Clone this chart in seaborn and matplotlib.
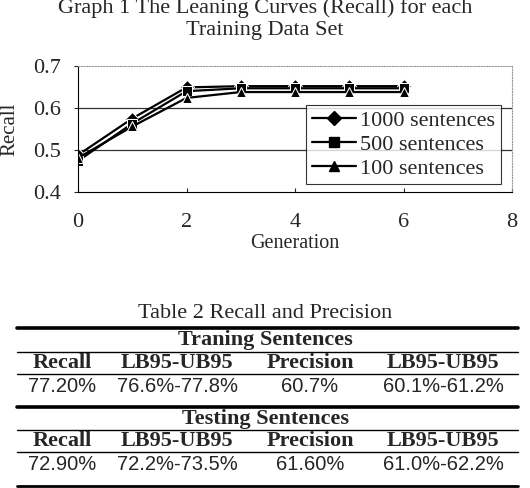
import matplotlib
matplotlib.use("Agg")
import matplotlib.pyplot as plt
from matplotlib.lines import Line2D
import seaborn as sns
import pandas as pd

# datos del grafico
generacion = [0, 1, 2, 3, 4, 5, 6]
recall_1000 = [0.488, 0.575, 0.649, 0.652, 0.652, 0.652, 0.652]
recall_500 = [0.474, 0.563, 0.640, 0.647, 0.647, 0.647, 0.647]
recall_100 = [0.481, 0.556, 0.624, 0.638, 0.638, 0.638, 0.638]
series = ["1000 sentences", "500 sentences", "100 sentences"]
marcadores = ["D", "s", "^"]

# datos de la tabla
encabezados = ["Recall", "LB95-UB95", "Precision", "LB95-UB95"]
fila_training = ["77.20%", "76.6%-77.8%", "60.7%", "60.1%-61.2%"]
fila_testing = ["72.90%", "72.2%-73.5%", "61.60%", "61.0%-62.2%"]

sns.set_style("white")
plt.rcParams["font.family"] = ["Liberation Serif", "DejaVu Serif"]

df = pd.DataFrame({
    "Generation": generacion * 3,
    "Recall": recall_1000 + recall_500 + recall_100,
    "serie": [series[0]] * 7 + [series[1]] * 7 + [series[2]] * 7,
})

W, H = 530, 488
fig = plt.figure(figsize=(W / 100, H / 100), dpi=100)
ax = fig.add_axes([78 / W, 1 - 192 / H, (512 - 78) / W, (192 - 66) / H])

sns.lineplot(data=df, x="Generation", y="Recall", hue="serie", style="serie",
             palette=["black"] * 3, markers=dict(zip(series, marcadores)),
             dashes=False, markersize=7, linewidth=1.6, ax=ax, legend=False)

ax.set_xlim(0, 8)
ax.set_ylim(0.4, 0.7)
ax.set_xticks([0, 2, 4, 6, 8])
ax.set_yticks([0.4, 0.5, 0.6, 0.7])
ax.set_yticklabels(["0.4", "0.5", "0.6", "0.7"], fontsize=16)
ax.set_xticklabels(["0", "2", "4", "6", "8"], fontsize=16)
for y in [0.5, 0.6]:
    ax.axhline(y, color="#333333", linewidth=0.9, zorder=0)
ax.spines["left"].set_color("black")
ax.spines["bottom"].set_color("black")
for s in ["top", "right"]:
    ax.spines[s].set_color("#999999")
    ax.spines[s].set_linestyle((0, (1, 1.5)))
ax.tick_params(axis="y", direction="out", length=3, width=0.8, left=True, pad=9)
ax.tick_params(axis="x", direction="in", length=3, width=0.8, bottom=True, pad=15)
ax.set_xlabel("Generation", fontsize=14.5)
ax.set_ylabel("Recall", fontsize=15)
# posiciones de las etiquetas en pixeles de la figura
ax.xaxis.set_label_coords(295 / W, 1 - 243 / H, transform=fig.transFigure)
ax.yaxis.set_label_coords(10 / W, 1 - 129 / H, transform=fig.transFigure)
ax.xaxis.label.set_va("center")
ax.yaxis.label.set_va("center")

manejadores = [Line2D([0], [0], color="black", marker=m, markersize=7, linewidth=1.6)
               for m in marcadores]
leg = fig.legend(manejadores, series, loc="upper left",
                 bbox_to_anchor=(306 / W, 1 - 105 / H), fontsize=16,
                 frameon=True, fancybox=False, edgecolor="black",
                 handlelength=2.0, handletextpad=0.2, borderpad=0.25,
                 labelspacing=0.15, borderaxespad=0)
leg.get_frame().set_linewidth(0.8)

fig.text(0.5, 1 - 8 / H, "Graph 1 The Leaning Curves (Recall) for each",
         ha="center", va="center", fontsize=16)
fig.text(0.5, 1 - 30 / H, "Training Data Set", ha="center", va="center", fontsize=16)

# tabla dibujada con texto y lineas
fig.text(0.5, 1 - 313 / H, "Table 2 Recall and Precision", ha="center", va="center", fontsize=16)
x0, x1 = 17 / W, 518 / W
def linea(yp, grosor):
    fig.add_artist(Line2D([x0, x1], [1 - yp / H, 1 - yp / H], color="black", linewidth=grosor))

for yp, grosor in [(328, 2.6), (352, 1.0), (374, 1.0), (407, 2.6), (430, 1.0), (452, 1.0), (486, 2.0)]:
    linea(yp, grosor)

columnas = [62, 177, 310, 443]
bloques = [("Traning Sentences", 340, 363, 386, fila_training),
           ("Testing Sentences", 419, 441, 464, fila_testing)]
for titulo, yt, yh, yd, fila in bloques:
    fig.text(0.5, 1 - yt / H, titulo, ha="center", va="center", fontsize=16, fontweight="bold")
    for cx, enc, val in zip(columnas, encabezados, fila):
        fig.text(cx / W, 1 - yh / H, enc, ha="center", va="center", fontsize=16, fontweight="bold")
        fig.text(cx / W, 1 - yd / H, val, ha="center", va="center", fontsize=14.5,
                 family="Liberation Sans")

fig.savefig("out.png", dpi=100)
